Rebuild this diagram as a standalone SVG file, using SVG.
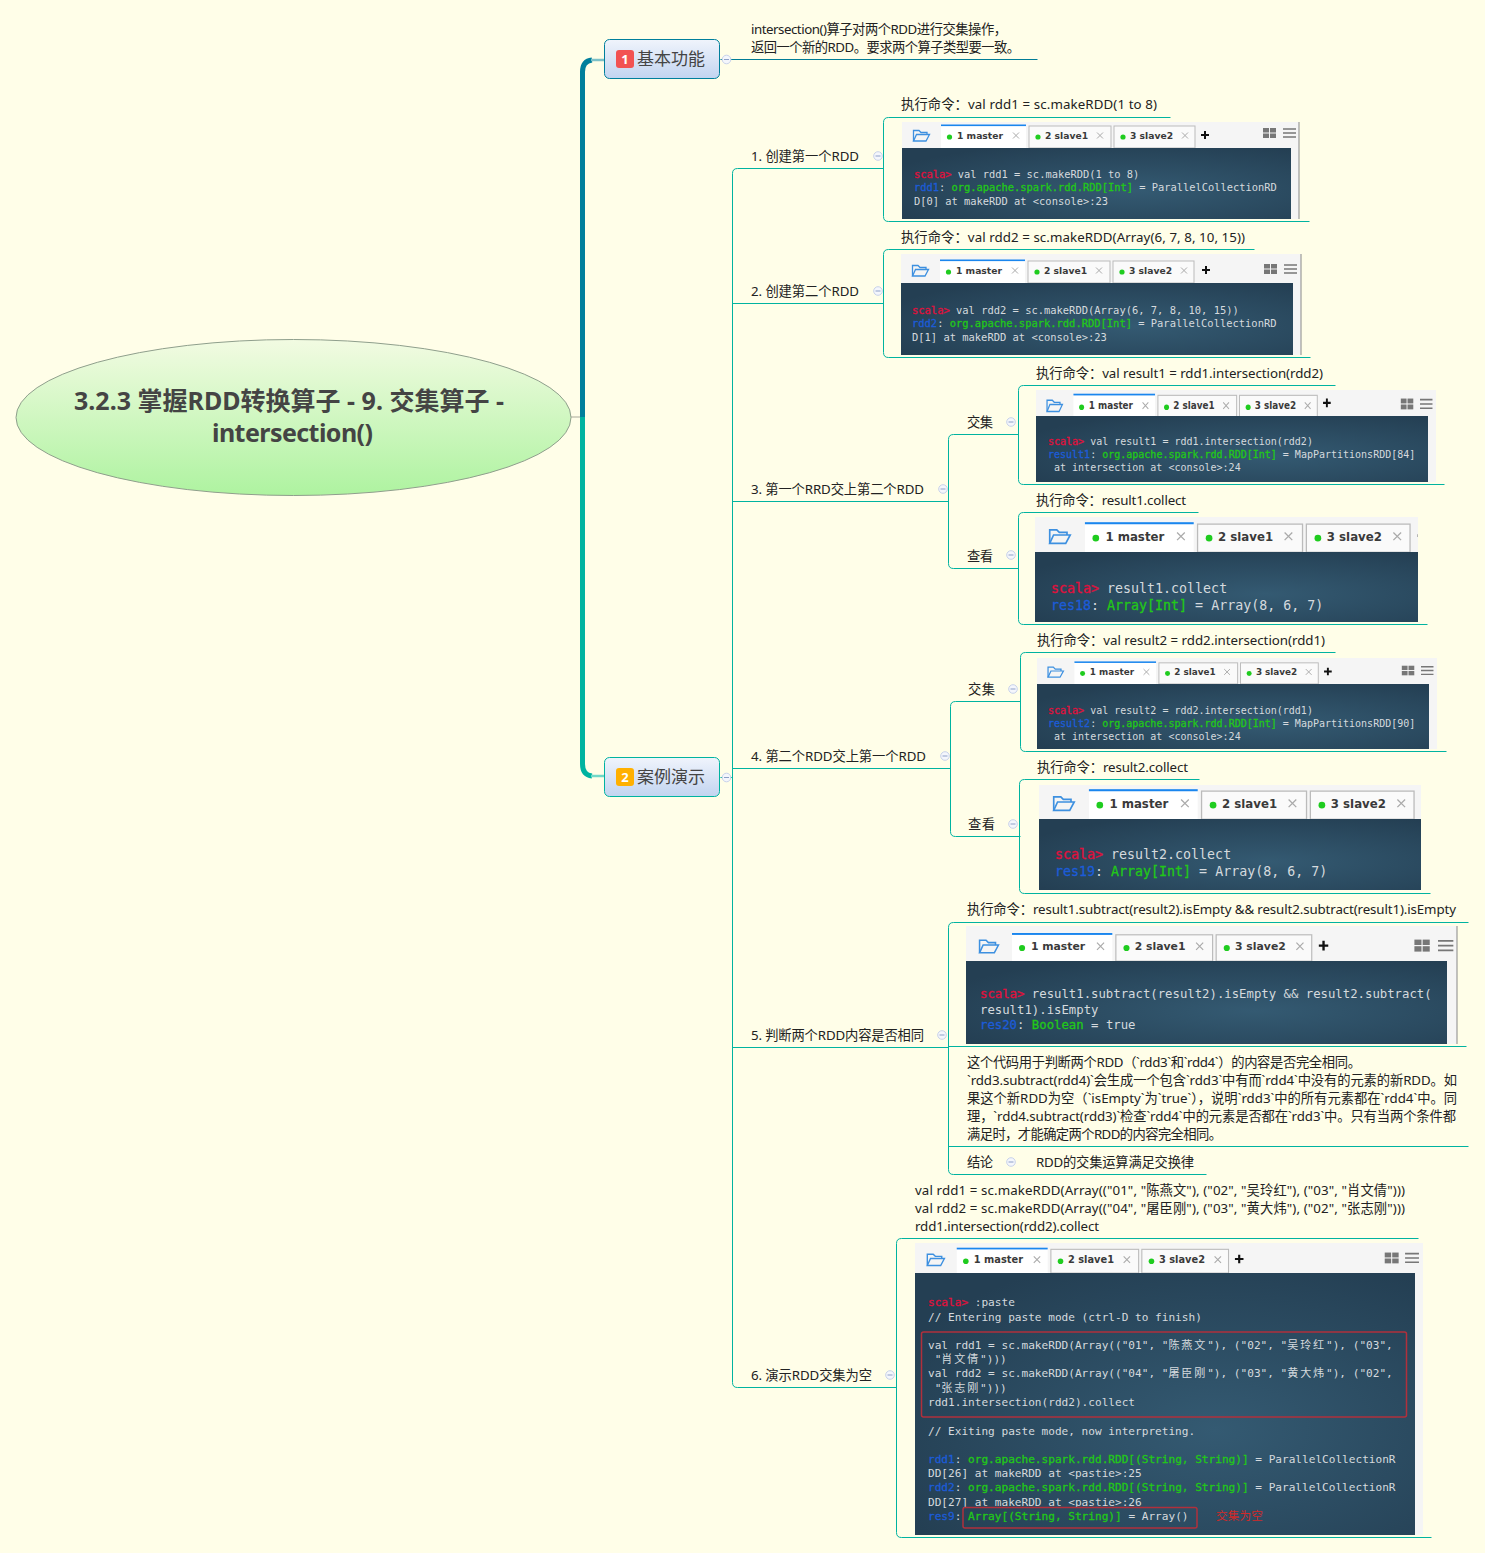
<svg xmlns="http://www.w3.org/2000/svg" width="1485" height="1553" viewBox="0 0 1485 1553">
<style>
text{font-family:"Noto Sans","Noto Sans CJK SC",sans-serif;font-size:13.3px;fill:#222}
.c{fill:none;stroke:#00b3a0;stroke-width:1;transform:translate(.5px,.5px)}
.c0{fill:none;stroke:#007c96;stroke-width:1;transform:translate(.5px,.5px)}
.tab{fill:#fafafa;stroke:#bbb;stroke-width:1}
.tt{font-family:"DejaVu Sans",sans-serif;font-weight:bold;font-size:9.2px;fill:#3a3a3a}
.m{font-family:"DejaVu Sans Mono","Noto Sans CJK SC",monospace;fill:#d5dade;white-space:pre}
.r{fill:#e0103c;stroke:#e0103c;stroke-width:.3}.b{fill:#1c5cd8;stroke:#1c5cd8;stroke-width:.3}.g{fill:#22c818;stroke:#22c818;stroke-width:.3}
.k{letter-spacing:1.8px}
.d{fill:url(#dark)}
.s{fill:#f5f5f5}
.rb{fill:none;stroke:#b0303c;stroke-width:1.5}
</style>
<defs>
<linearGradient id="ell" x1="0" y1="0" x2="0" y2="1"><stop offset="0" stop-color="#f2fbe2"/><stop offset="1" stop-color="#aef3a0"/></linearGradient>
<linearGradient id="nd" x1="0" y1="0" x2="0" y2="1"><stop offset="0" stop-color="#f0f4fc"/><stop offset="1" stop-color="#c2d4f0"/></linearGradient>
<radialGradient id="dark" cx="0.6" cy="0.6" r="0.7"><stop offset="0" stop-color="#345a72"/><stop offset="1" stop-color="#243f53"/></radialGradient>
<g id="col"><circle r="4.3" fill="#f4f6fc" stroke="#c8d2ea"/><path d="M-2.5 0H2.5" stroke="#8ea0c8"/></g>
<g id="folder" fill="none" stroke="#3d90e0" stroke-width="1.3"><path d="M0.5 12V1.5H6L8 3.5H14V5.5"/><path d="M0.5 12H13L16.5 5.5H3.5L0.5 12Z"/></g>
<path id="x" d="M-3 -3L3 3M3 -3L-3 3" stroke="#aaa" stroke-width="1"/>
<path id="plus" d="M-4 0H4M0 -4V4" stroke="#111" stroke-width="2"/>
<g id="grid" fill="#777"><rect width="6" height="4.500"/><rect x="7" width="6" height="4.500"/><rect y="5.500" width="6" height="4.500"/><rect x="7" y="5.500" width="6" height="4.500"/></g>
<path id="menu" d="M0 1H13M0 5H13M0 9H13" stroke="#777" stroke-width="1.500"/>
<g id="tabs">
<use href="#folder" x="11" y="7"/>
<rect x="39" y="3" width="85" height="23" fill="#fff"/><rect x="39" y="2.500" width="85" height="1.600" fill="#1a86ee"/>
<rect class="tab" x="127" y="4" width="82" height="22"/>
<rect class="tab" x="212" y="4" width="81" height="22"/>
<circle cx="47.500" cy="15" r="2.600" fill="#1fcc1f"/><circle cx="136" cy="15" r="2.600" fill="#1fcc1f"/><circle cx="221" cy="15" r="2.600" fill="#1fcc1f"/>
<use href="#x" x="114" y="13.500"/><use href="#x" x="198" y="13.500"/><use href="#x" x="283" y="13.500"/>
</g>
<clipPath id="c4"><rect x="1035" y="517" width="383" height="36"/></clipPath>
</defs>
<rect width="1485" height="1553" fill="#fffee8"/>

<g id="connectors">
<path d="M571 417H581" stroke="#a8a89a" stroke-width="1" fill="none"/>
<path d="M582.500 417V72Q582.500 61 592 60" fill="none" stroke="#007f9c" stroke-width="5"/>
<path d="M591 60H604" stroke="#7cc0c8" stroke-width="2.500"/>
<path d="M582.500 417V764Q582.500 775 592 776" fill="none" stroke="#00b3a0" stroke-width="5"/>
<path d="M591 776H604" stroke="#70d8c8" stroke-width="2.500"/>
<path class="c0" d="M720 59H1037"/>
<path class="c" d="M720 777H732"/>
<path class="c" d="M883 168H737Q732 168 732 173V1382Q732 1387 737 1387H896"/>
<path class="c" d="M1170 117H888Q883 117 883 122V216Q883 221 888 221H1309"/>
<path class="c" d="M732 303H883"/>
<path class="c" d="M1254 249H888Q883 249 883 254V352Q883 357 888 357H1310"/>
<path class="c" d="M732 501H948"/>
<path class="c" d="M1018 434H953Q948 434 948 439V563Q948 568 953 568H1018"/>
<path class="c" d="M1335 385H1023Q1018 385 1018 390V479Q1018 484 1023 484H1444"/>
<path class="c" d="M1198 512H1023Q1018 512 1018 517V619Q1018 624 1023 624H1427"/>
<path class="c" d="M732 768H950"/>
<path class="c" d="M1020 701H955Q950 701 950 706V831Q950 836 955 836H1020"/>
<path class="c" d="M1335 652H1025Q1020 652 1020 657V746Q1020 751 1025 751H1446"/>
<path class="c" d="M1199 779H1024Q1019 779 1019 784V888Q1019 893 1024 893H1430"/>
<path class="c" d="M732 1047H948"/>
<path class="c" d="M1468 922H953Q948 922 948 927V1169Q948 1174 953 1174H1206"/>
<path class="c" d="M948 1046H1466"/>
<path class="c" d="M948 1146H1468"/>
<path class="c" d="M1418 1238H901Q896 1238 896 1243V1532Q896 1537 901 1537H1431"/>
</g>

<g id="root">
<ellipse cx="293.500" cy="417.500" rx="277.500" ry="78" fill="url(#ell)" stroke="#8f9f8c"/>
<text x="289" y="410" text-anchor="middle" style="font-size:25px;font-weight:bold;fill:#444" textLength="430">3.2.3 掌握RDD转换算子 - 9. 交集算子 -</text>
<text x="292.500" y="442" text-anchor="middle" style="font-size:25px;font-weight:bold;fill:#444" textLength="161">intersection()</text>
</g>

<g id="n1">
<rect x="604.500" y="39.500" width="115" height="39" rx="5" fill="url(#nd)" stroke="#007f9c"/>
<rect x="616" y="50" width="18" height="18" rx="3" fill="#f25252"/>
<text x="625" y="64" text-anchor="middle" style="font-size:13px;font-weight:bold;fill:#fff">1</text>
<text x="637" y="65" style="font-size:17px;fill:#444" textLength="68">基本功能</text>
<use href="#col" x="726.500" y="59.500"/>
</g>
<g id="n1a">
<text x="751" y="34" textLength="256">intersection()算子对两个RDD进行交集操作，</text>
<text x="751" y="52" textLength="269">返回一个新的RDD。要求两个算子类型要一致。</text>
</g>

<g id="n2">
<rect x="604.500" y="757.500" width="115" height="39" rx="5" fill="url(#nd)" stroke="#00b3a0"/>
<rect x="616" y="768" width="18" height="18" rx="3" fill="#ffb000"/>
<text x="625" y="782" text-anchor="middle" style="font-size:13px;font-weight:bold;fill:#fff">2</text>
<text x="637" y="783" style="font-size:17px;fill:#444" textLength="68">案例演示</text>
<use href="#col" x="726.500" y="777.500"/>
</g>

<g id="item1">
<text x="751" y="161" textLength="108">1. 创建第一个RDD</text><use href="#col" x="878" y="156"/>
<text x="901" y="109" textLength="256">执行命令：val rdd1 = sc.makeRDD(1 to 8)</text>
<rect class="s" x="902" y="122" width="397" height="97"/><rect x="1298.500" y="122" width="1" height="97" fill="#888"/>
<g transform="translate(902 122)"><use href="#tabs"/><use href="#plus" x="303" y="13"/><use href="#grid" x="361" y="6"/><use href="#menu" x="381" y="6"/>
<text class="tt" x="55" y="17">1 master</text><text class="tt" x="143" y="17">2 slave1</text><text class="tt" x="228" y="17">3 slave2</text></g>
<rect class="d" x="902" y="148" width="389" height="71"/>
<text class="m" x="914" y="178" style="font-size:10.4px"><tspan class="r">scala&gt;</tspan> val rdd1 = sc.makeRDD(1 to 8)</text>
<text class="m" x="914" y="191" style="font-size:10.4px"><tspan class="b">rdd1</tspan>: <tspan class="g">org.apache.spark.rdd.RDD[Int]</tspan> = ParallelCollectionRD</text>
<text class="m" x="914" y="205" style="font-size:10.4px">D[0] at makeRDD at &lt;console&gt;:23</text>
</g>

<g id="item2">
<text x="751" y="296" textLength="108">2. 创建第二个RDD</text><use href="#col" x="878" y="291"/>
<text x="901" y="242" textLength="344">执行命令：val rdd2 = sc.makeRDD(Array(6, 7, 8, 10, 15))</text>
<rect class="s" x="901" y="254" width="400" height="101"/><rect x="1300.500" y="254" width="1" height="101" fill="#888"/>
<g transform="translate(901 257)"><use href="#tabs"/><use href="#plus" x="305" y="13"/><use href="#grid" x="363" y="7"/><use href="#menu" x="383" y="7"/>
<text class="tt" x="55" y="17">1 master</text><text class="tt" x="143" y="17">2 slave1</text><text class="tt" x="228" y="17">3 slave2</text></g>
<rect class="d" x="901" y="283" width="392" height="72"/>
<text class="m" x="912" y="314" style="font-size:10.45px"><tspan class="r">scala&gt;</tspan> val rdd2 = sc.makeRDD(Array(6, 7, 8, 10, 15))</text>
<text class="m" x="912" y="327" style="font-size:10.45px"><tspan class="b">rdd2</tspan>: <tspan class="g">org.apache.spark.rdd.RDD[Int]</tspan> = ParallelCollectionRD</text>
<text class="m" x="912" y="341" style="font-size:10.45px">D[1] at makeRDD at &lt;console&gt;:23</text>
</g>

<g id="item3">
<text x="751" y="494" textLength="173">3. 第一个RRD交上第二个RDD</text><use href="#col" x="943" y="489"/>
</g>
<g id="item3a">
<text x="967" y="427" textLength="26">交集</text><use href="#col" x="1011" y="422"/>
<text x="1036" y="378" textLength="287">执行命令：val result1 = rdd1.intersection(rdd2)</text>
<rect class="s" x="1036" y="390" width="400" height="92"/>
<g transform="translate(1036 391) scale(.96 1.08)"><use href="#tabs"/><use href="#plus" x="303" y="11"/><use href="#grid" x="380" y="7"/><use href="#menu" x="400" y="7"/>
<text class="tt" x="55" y="17">1 master</text><text class="tt" x="143" y="17">2 slave1</text><text class="tt" x="228" y="17">3 slave2</text></g>
<rect class="d" x="1036" y="416" width="392" height="66"/>
<text class="m" x="1048" y="445" style="font-size:10px"><tspan class="r">scala&gt;</tspan> val result1 = rdd1.intersection(rdd2)</text>
<text class="m" x="1048" y="458" style="font-size:10px"><tspan class="b">result1</tspan>: <tspan class="g">org.apache.spark.rdd.RDD[Int]</tspan> = MapPartitionsRDD[84]</text>
<text class="m" x="1048" y="471" style="font-size:10px"> at intersection at &lt;console&gt;:24</text>
</g>
<g id="item3b">
<text x="967" y="561" textLength="26">查看</text><use href="#col" x="1011" y="555"/>
<text x="1036" y="505" textLength="150">执行命令：result1.collect</text>
<rect class="s" x="1035" y="517" width="383" height="36"/>
<g clip-path="url(#c4)"><g transform="translate(1035 519) scale(1.28 1.28)"><use href="#tabs"/><use href="#plus" x="303" y="13"/>
<text class="tt" x="55" y="17">1 master</text><text class="tt" x="143" y="17">2 slave1</text><text class="tt" x="228" y="17">3 slave2</text></g></g>
<rect class="d" x="1035" y="552" width="383" height="70"/>
<text class="m" x="1051" y="593" style="font-size:13.3px"><tspan class="r">scala&gt;</tspan> result1.collect</text>
<text class="m" x="1051" y="610" style="font-size:13.3px"><tspan class="b">res18</tspan>: <tspan class="g">Array[Int]</tspan> = Array(8, 6, 7)</text>
</g>

<g id="item4">
<text x="751" y="761" textLength="175">4. 第二个RDD交上第一个RDD</text><use href="#col" x="945" y="756"/>
</g>
<g id="item4a">
<text x="968" y="694" textLength="27">交集</text><use href="#col" x="1013" y="689"/>
<text x="1037" y="645" textLength="288">执行命令：val result2 = rdd2.intersection(rdd1)</text>
<rect class="s" x="1037" y="658" width="400" height="91"/>
<g transform="translate(1037 659) scale(.96 .96)"><use href="#tabs"/><use href="#plus" x="303" y="13"/><use href="#grid" x="380" y="7"/><use href="#menu" x="400" y="7"/>
<text class="tt" x="55" y="17">1 master</text><text class="tt" x="143" y="17">2 slave1</text><text class="tt" x="228" y="17">3 slave2</text></g>
<rect class="d" x="1037" y="684" width="392" height="65"/>
<text class="m" x="1048" y="714" style="font-size:10px"><tspan class="r">scala&gt;</tspan> val result2 = rdd2.intersection(rdd1)</text>
<text class="m" x="1048" y="727" style="font-size:10px"><tspan class="b">result2</tspan>: <tspan class="g">org.apache.spark.rdd.RDD[Int]</tspan> = MapPartitionsRDD[90]</text>
<text class="m" x="1048" y="740" style="font-size:10px"> at intersection at &lt;console&gt;:24</text>
</g>
<g id="item4b">
<text x="968" y="829" textLength="27">查看</text><use href="#col" x="1013" y="824"/>
<text x="1037" y="772" textLength="151">执行命令：result2.collect</text>
<rect class="s" x="1039" y="785" width="382" height="35"/>
<g transform="translate(1039 786) scale(1.28 1.28)"><use href="#tabs"/>
<text class="tt" x="55" y="17">1 master</text><text class="tt" x="143" y="17">2 slave1</text><text class="tt" x="228" y="17">3 slave2</text></g>
<rect class="d" x="1039" y="819" width="382" height="71"/>
<text class="m" x="1055" y="859" style="font-size:13.3px"><tspan class="r">scala&gt;</tspan> result2.collect</text>
<text class="m" x="1055" y="876" style="font-size:13.3px"><tspan class="b">res19</tspan>: <tspan class="g">Array[Int]</tspan> = Array(8, 6, 7)</text>
</g>

<g id="item5">
<text x="751" y="1040" textLength="173">5. 判断两个RDD内容是否相同</text><use href="#col" x="942" y="1035"/>
</g>
<g id="item5a">
<text x="967" y="914" textLength="489">执行命令：result1.subtract(result2).isEmpty &amp;&amp; result2.subtract(result1).isEmpty</text>
<rect class="s" x="966" y="926" width="491" height="118"/><rect x="1456.500" y="926" width="1" height="118" fill="#888"/>
<g transform="translate(966 930) scale(1.18 1.2)"><use href="#tabs"/><use href="#plus" x="303" y="13"/><use href="#grid" x="380" y="8"/><use href="#menu" x="400" y="8"/>
<text class="tt" x="55" y="17">1 master</text><text class="tt" x="143" y="17">2 slave1</text><text class="tt" x="228" y="17">3 slave2</text></g>
<rect class="d" x="966" y="961" width="481" height="83"/>
<text class="m" x="980" y="998" style="font-size:12.3px"><tspan class="r">scala&gt;</tspan> result1.subtract(result2).isEmpty &amp;&amp; result2.subtract(</text>
<text class="m" x="980" y="1014" style="font-size:12.3px">result1).isEmpty</text>
<text class="m" x="980" y="1029" style="font-size:12.3px"><tspan class="b">res20</tspan>: <tspan class="g">Boolean</tspan> = true</text>
</g>
<g id="item5b">
<text x="967" y="1067" textLength="394">这个代码用于判断两个RDD（`rdd3`和`rdd4`）的内容是否完全相同。</text>
<text x="967" y="1085" textLength="490">`rdd3.subtract(rdd4)`会生成一个包含`rdd3`中有而`rdd4`中没有的元素的新RDD。如</text>
<text x="967" y="1103" textLength="490">果这个新RDD为空（`isEmpty`为`true`），说明`rdd3`中的所有元素都在`rdd4`中。同</text>
<text x="967" y="1121" textLength="489">理，`rdd4.subtract(rdd3)`检查`rdd4`中的元素是否都在`rdd3`中。只有当两个条件都</text>
<text x="967" y="1139" textLength="255">满足时，才能确定两个RDD的内容完全相同。</text>
</g>
<g id="item5c">
<text x="967" y="1167" textLength="26">结论</text><use href="#col" x="1011" y="1162"/>
<text x="1036" y="1167" textLength="158">RDD的交集运算满足交换律</text>
</g>

<g id="item6">
<text x="751" y="1380" textLength="121">6. 演示RDD交集为空</text><use href="#col" x="890" y="1375"/>
<text x="915" y="1195" textLength="490">val rdd1 = sc.makeRDD(Array(("01", "陈燕文"), ("02", "吴玲红"), ("03", "肖文倩")))</text>
<text x="915" y="1213" textLength="490">val rdd2 = sc.makeRDD(Array(("04", "屠臣刚"), ("03", "黄大炜"), ("02", "张志刚")))</text>
<text x="915" y="1231" textLength="184">rdd1.intersection(rdd2).collect</text>
<rect class="s" x="915" y="1243" width="508" height="292"/>
<g transform="translate(915 1245) scale(1.07 1.08)"><use href="#tabs"/><use href="#plus" x="303" y="13"/><use href="#grid" x="439" y="7"/><use href="#menu" x="458" y="7"/>
<text class="tt" x="55" y="17">1 master</text><text class="tt" x="143" y="17">2 slave1</text><text class="tt" x="228" y="17">3 slave2</text></g>
<rect class="d" x="915" y="1273" width="500" height="262"/>
<text class="m" x="928" y="1306" style="font-size:11.1px"><tspan class="r">scala&gt;</tspan> :paste</text>
<text class="m" x="928" y="1321" style="font-size:11.1px">// Entering paste mode (ctrl-D to finish)</text>
<text class="m" x="928" y="1349" style="font-size:11.1px">val rdd1 = sc.makeRDD(Array(("01", "<tspan class="k">陈燕文</tspan>"), ("02", "<tspan class="k">吴玲红</tspan>"), ("03",</text>
<text class="m" x="928" y="1363" style="font-size:11.1px"> "<tspan class="k">肖文倩</tspan>")))</text>
<text class="m" x="928" y="1377" style="font-size:11.1px">val rdd2 = sc.makeRDD(Array(("04", "<tspan class="k">屠臣刚</tspan>"), ("03", "<tspan class="k">黄大炜</tspan>"), ("02",</text>
<text class="m" x="928" y="1392" style="font-size:11.1px"> "<tspan class="k">张志刚</tspan>")))</text>
<text class="m" x="928" y="1406" style="font-size:11.1px">rdd1.intersection(rdd2).collect</text>
<text class="m" x="928" y="1435" style="font-size:11.1px">// Exiting paste mode, now interpreting.</text>
<text class="m" x="928" y="1463" style="font-size:11.1px"><tspan class="b">rdd1</tspan>: <tspan class="g">org.apache.spark.rdd.RDD[(String, String)]</tspan> = ParallelCollectionR</text>
<text class="m" x="928" y="1477" style="font-size:11.1px">DD[26] at makeRDD at &lt;pastie&gt;:25</text>
<text class="m" x="928" y="1491" style="font-size:11.1px"><tspan class="b">rdd2</tspan>: <tspan class="g">org.apache.spark.rdd.RDD[(String, String)]</tspan> = ParallelCollectionR</text>
<text class="m" x="928" y="1506" style="font-size:11.1px">DD[27] at makeRDD at &lt;pastie&gt;:26</text>
<text class="m" x="928" y="1520" style="font-size:11.1px"><tspan class="b">res9</tspan>: <tspan class="g">Array[(String, String)]</tspan> = Array()</text>
<rect class="rb" x="921.500" y="1332" width="485" height="85" rx="2"/>
<rect class="rb" x="963" y="1507.500" width="234" height="20.500" rx="2"/>
<text x="1216" y="1520" style="font-size:11.700px;fill:#d02a2a" textLength="47">交集为空</text>
</g>
</svg>
